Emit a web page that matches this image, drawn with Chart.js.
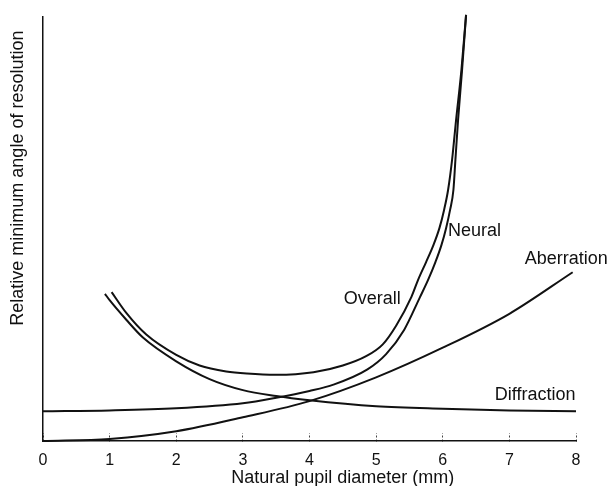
<!DOCTYPE html>
<html>
<head>
<meta charset="utf-8">
<title>Relative minimum angle of resolution</title>
<script src="https://cdn.jsdelivr.net/npm/chart.js@4.4.0/dist/chart.umd.min.js"></script>
<style>
  html, body { margin: 0; padding: 0; background: #fff; }
  #wrap { position: relative; width: 613px; height: 486px; }
</style>
</head>
<body>
<div id="wrap"><canvas id="chart"></canvas></div>
<script>
// x ticks (pupil diameter, mm)
var pupilTicks = [0, 1, 2, 3, 4, 5, 6, 7, 8];

// values (y is relative, no units shown)
var diffractionX = [0.93, 1.0, 1.25, 1.5, 2.0, 2.5, 3.0, 3.5, 4.0, 5.0, 6.0, 7.0, 8.0];
var diffractionY = [3.47, 3.32, 2.86, 2.44, 1.88, 1.46, 1.20, 1.06, 0.96, 0.82, 0.76, 0.72, 0.70];

var overallX = [1.03, 1.25, 1.55, 2.0, 2.35, 2.75, 3.06, 3.5, 4.06, 4.5, 4.85, 5.1, 5.3, 5.53, 5.63, 5.75, 5.86, 5.95, 6.02, 6.08, 6.14, 6.20, 6.28, 6.35];
var overallY = [3.51, 3.02, 2.51, 2.03, 1.78, 1.64, 1.59, 1.56, 1.62, 1.78, 2.00, 2.28, 2.72, 3.40, 3.80, 4.22, 4.62, 5.02, 5.45, 5.92, 6.63, 7.57, 8.75, 10.05];

var neuralX = [0, 1, 2, 3, 3.5, 4.0, 4.36, 4.87, 5.15, 5.42, 5.66, 5.78, 5.89, 5.98, 6.05, 6.11, 6.16, 6.19, 6.23, 6.29, 6.35];
var neuralY = [0.70, 0.72, 0.77, 0.89, 1.02, 1.18, 1.33, 1.69, 2.05, 2.62, 3.40, 3.80, 4.22, 4.62, 5.02, 5.45, 5.92, 6.63, 7.57, 8.75, 10.05];

var aberrationX = [0, 1, 2, 3, 4, 5, 6, 7, 7.95];
var aberrationY = [0, 0.05, 0.23, 0.56, 0.94, 1.50, 2.20, 3.00, 3.98];

var seriesNames = ['Overall', 'Neural', 'Aberration', 'Diffraction'];

var ink = '#111';
var fontFamily = '"Liberation Sans", Arial, Helvetica, sans-serif';

function points(xs, ys) {
	return xs.map(function(x, i) { return { x: x, y: ys[i] }; });
}

function curve(name, xs, ys) {
	return {
		label: name,
		data: points(xs, ys),
		borderColor: ink,
		borderWidth: 2,
		pointRadius: 0,
		fill: false,
		cubicInterpolationMode: 'monotone',
		clip: false
	};
}

// where each curve name is written, in data units
var nameSpots = {
	'Neural':      { x: 6.08, y: 4.95, align: 'left' },
	'Overall':     { x: 5.37, y: 3.36, align: 'right' },
	'Aberration':  { x: 7.23, y: 4.30, align: 'left' },
	'Diffraction': { x: 6.78, y: 1.08, align: 'left' }
};

var textPlugin = {
	id: 'figureText',
	afterDraw: function(chart) {
		var ctx = chart.ctx;
		var xs = chart.scales.x, ys = chart.scales.y;
		ctx.save();
		ctx.fillStyle = ink;
		ctx.font = '18px ' + fontFamily;
		ctx.textBaseline = 'middle';
		seriesNames.forEach(function(n) {
			var s = nameSpots[n];
			ctx.textAlign = s.align;
			ctx.fillText(n, xs.getPixelForValue(s.x), ys.getPixelForValue(s.y));
		});

		// axis titles
		ctx.textAlign = 'center';
		ctx.fillText('Natural pupil diameter (mm)', xs.getPixelForValue(4.5), 478);
		ctx.translate(18, ys.getPixelForValue(6.2));
		ctx.rotate(-Math.PI / 2);
		ctx.fillText('Relative minimum angle of resolution', 0, 0);
		ctx.restore();
	}
};

var chart = new Chart(document.getElementById('chart'), {
	type: 'line',
	data: {
		datasets: [
			curve(seriesNames[0], overallX, overallY),
			curve(seriesNames[1], neuralX, neuralY),
			curve(seriesNames[2], aberrationX, aberrationY),
			curve(seriesNames[3], diffractionX, diffractionY)
		]
	},
	options: {
		responsive: true,
		maintainAspectRatio: false,
		animation: false,
		devicePixelRatio: 1,
		layout: { padding: { top: 17, right: 37, left: 0, bottom: 0 } },
		plugins: { legend: { display: false }, tooltip: { enabled: false } },
		scales: {
			x: {
				type: 'linear',
				min: 0,
				max: 8,
				afterBuildTicks: function(scale) {
					scale.ticks = pupilTicks.map(function(v) { return { value: v }; });
				},
				afterFit: function(scale) { scale.height = 45; },
				ticks: {
					color: ink,
					font: { family: fontFamily, size: 16 },
					padding: 18,
					maxRotation: 0
				},
				grid: {
					drawOnChartArea: false,
					drawTicks: true,
					tickLength: -8,
					tickColor: '#444',
					tickWidth: 1,
					tickBorderDash: [2, 2]
				},
				border: { display: true, color: ink, width: 1.5 }
			},
			y: {
				type: 'linear',
				min: 0,
				max: 10,
				afterFit: function(scale) { scale.width = 43; },
				ticks: { display: false },
				grid: { display: false },
				border: { display: true, color: ink, width: 1.5 }
			}
		}
	},
	plugins: [textPlugin]
});
</script>
</body>
</html>
